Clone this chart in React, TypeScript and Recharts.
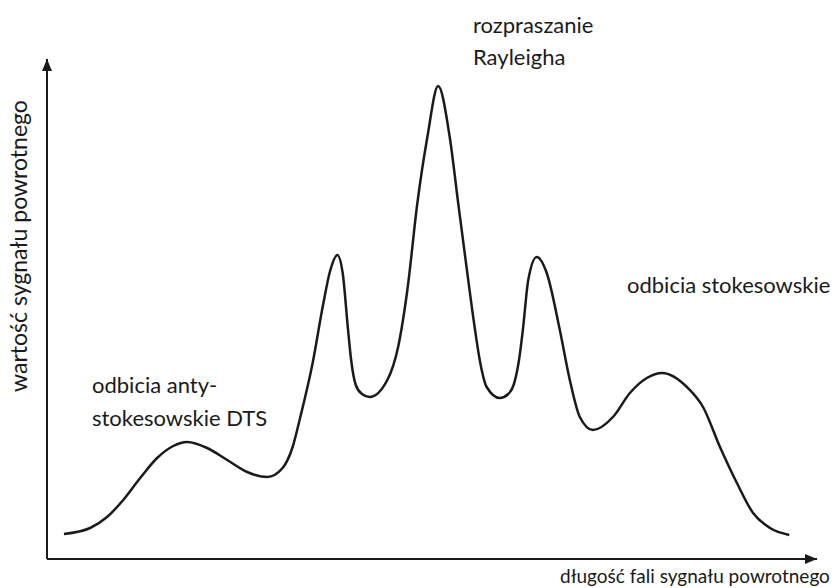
import { LineChart, Line, XAxis, YAxis, ReferenceDot, ReferenceLine } from "recharts";

// długość fali (umowne jednostki, oś 0..100)
const wavelength = [
  2.2, 5.6, 7.8, 9.9, 12.1, 14.3, 16.4, 18.2, 20.8, 23.4, 26.0, 28.6, 30.6, 31.9, 32.9,
  34.5, 35.8, 36.8, 37.7, 38.4, 39.1, 39.5, 40.1, 40.9, 41.9, 44.2, 45.6, 46.8, 48.1, 49.4,
  50.8, 52.3, 53.4, 54.5, 55.5, 56.2, 57.1, 58.8, 59.9, 60.6, 61.3, 61.8, 62.5, 63.6, 64.9, 66.6,
  67.9, 69.2, 70.9, 73.5, 75.7, 77.9, 79.9, 83.1, 85.2, 87.4, 89.6, 91.7, 93.9, 96.4,
];

// wartość sygnału powrotnego (umowne jednostki, oś 0..100)
const signal = [
  5.0, 6.2, 8.4, 11.8, 16.2, 20.2, 22.6, 23.4, 22.2, 19.8, 17.4, 16.4, 18.2, 22.4, 28.4,
  39.2, 50.4, 57.8, 60.8, 57.2, 45.8, 39.8, 34.8, 33.0, 32.4, 35.8, 42.4, 53.8, 71.2, 84.4,
  94.6, 84.4, 71.2, 58.2, 46.8, 39.8, 34.4, 32.2, 33.0, 34.8, 39.8, 45.8, 55.8, 60.4, 57.2, 45.8,
  35.8, 28.4, 25.8, 28.4, 33.2, 36.2, 37.2, 34.4, 30.4, 22.4, 15.2, 9.2, 6.2, 4.8,
];

const data = wavelength.map((x, i) => ({ x, y: signal[i] }));

const FONT = "Lato, 'Open Sans', sans-serif";
const INK = "#1a1a1a";

const textStyle: React.CSSProperties = {
  position: "absolute",
  fontFamily: FONT,
  fontSize: 22,
  color: INK,
  whiteSpace: "nowrap",
};

const ArrowUp = (p: any) => (
  <polygon points={`${p.cx},${p.cy} ${p.cx - 5},${p.cy + 12} ${p.cx + 5},${p.cy + 12}`} fill={INK} />
);

const ArrowRight = (p: any) => (
  <polygon points={`${p.cx},${p.cy} ${p.cx - 12},${p.cy - 5} ${p.cx - 12},${p.cy + 5}`} fill={INK} />
);

export default function App() {
  return (
    <div style={{ position: "relative", width: 834, height: 588, background: "#fff", overflow: "hidden" }}>
      <style>{`body{margin:0}`}</style>
      <LineChart width={834} height={588} data={data} margin={{ top: 59, right: 17, bottom: 29, left: 47 }}>
        <XAxis dataKey="x" type="number" domain={[0, 100]} hide />
        <YAxis type="number" domain={[0, 100]} hide />
        <ReferenceLine y={0} stroke={INK} strokeWidth={2} ifOverflow="visible" />
        <ReferenceLine x={0} stroke={INK} strokeWidth={2} ifOverflow="visible" />
        <Line
          dataKey="y"
          type="monotone"
          stroke={INK}
          strokeWidth={2.5}
          dot={false}
          isAnimationActive={false}
        />
        <ReferenceDot x={0} y={100} r={0} ifOverflow="visible" shape={ArrowUp} />
        <ReferenceDot x={100} y={0} r={0} ifOverflow="visible" shape={ArrowRight} />
      </LineChart>

      <div style={{ ...textStyle, left: 473, top: 9, lineHeight: "32px" }}>
        rozpraszanie
        <br />
        Rayleigha
      </div>
      <div style={{ ...textStyle, left: 92, top: 368, lineHeight: "33px" }}>
        odbicia anty-
        <br />
        stokesowskie DTS
      </div>
      <div style={{ ...textStyle, left: 627, top: 272, lineHeight: "26px" }}>odbicia stokesowskie</div>
      <div style={{ ...textStyle, fontSize: 19, left: 560, top: 565, lineHeight: "22px" }}>
        długość fali sygnału powrotnego
      </div>
      <div
        style={{
          ...textStyle,
          fontSize: 23,
          left: 18,
          top: 246,
          lineHeight: "26px",
          transform: "translate(-50%, -50%) rotate(-90deg)",
        }}
      >
        wartość sygnału powrotnego
      </div>
    </div>
  );
}
